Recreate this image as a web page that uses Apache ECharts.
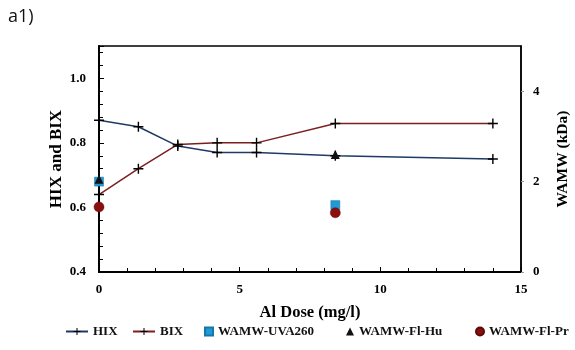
<!DOCTYPE html>
<html><head><meta charset="utf-8">
<script src="https://cdn.jsdelivr.net/npm/echarts@6/dist/echarts.min.js"></script>
<style>html,body{margin:0;padding:0;background:#fff}#c{width:575px;height:350px}</style>
</head><body><div id="c"></div>
<script>
const doses = [0, 1.4, 2.8, 4.2, 5.6, 8.4, 14];
const hix = [0.87, 0.85, 0.79, 0.77, 0.77, 0.76, 0.75];
const bix = [0.64, 0.72, 0.795, 0.80, 0.80, 0.86, 0.86];
const wamwDoses = [0, 8.4];
const wamwUva = [2.0, 1.48];
const wamwHu = [2.05, 2.6];
const wamwPr = [1.44, 1.31];

const serif = 'Liberation Serif';
const plus = 'path://M4.3,0H5.7V4.3H10V5.7H5.7V10H4.3V5.7H0V4.3H4.3Z';
const pair = (xs, ys) => xs.map((x, i) => [x, ys[i]]);
const legText = { fontFamily: serif, fontWeight: 'bold', fontSize: 13, color: '#111' };
const mkLegend = (name, left, icon, w, h) => ({
  data: [icon ? { name, icon } : { name }], left, top: 325, itemWidth: w, itemHeight: h,
  textStyle: legText, padding: 0
});

const chart = echarts.init(document.getElementById('c'));
chart.setOption({
  animation: false,
  grid: { left: 99, right: 54, top: 46, bottom: 78, outerBoundsMode: 'none', containLabel: false,
    show: true, borderColor: '#000', borderWidth: 1.5, backgroundColor: 'transparent' },
  xAxis: {
    type: 'value', min: 0, max: 15, interval: 5,
    name: 'Al Dose (mg/l)', nameLocation: 'middle', nameGap: 32,
    nameTextStyle: { fontFamily: serif, fontWeight: 'bold', fontSize: 16.5, color: '#000' },
    axisLine: { lineStyle: { color: '#000', width: 2 } },
    axisTick: { show: true, inside: true, length: 5, lineStyle: { color: '#000' } },
    minorTick: { show: true, splitNumber: 5, length: 4, lineStyle: { color: '#000' } },
    splitLine: { show: false },
    axisLabel: { fontFamily: serif, fontWeight: 'bold', fontSize: 13, color: '#000', margin: 11 }
  },
  yAxis: [{
    type: 'value', min: 0.4, max: 1.1, interval: 0.2,
    name: 'HIX and BIX', nameLocation: 'middle', nameGap: 34, nameMoveOverlap: false,
    nameTextStyle: { fontFamily: serif, fontWeight: 'bold', fontSize: 17, color: '#000' },
    axisLine: { show: true, lineStyle: { color: '#000', width: 2 } },
    axisTick: { show: true, inside: true, length: 5, lineStyle: { color: '#000' } },
    minorTick: { show: true, splitNumber: 5, length: 4, lineStyle: { color: '#000' } },
    splitLine: { show: false },
    axisLabel: { fontFamily: serif, fontWeight: 'bold', fontSize: 13, color: '#000', margin: 13, showMaxLabel: false,
      formatter: v => v.toFixed(1) }
  }, {
    type: 'value', min: 0, max: 5, interval: 2, position: 'right',
    name: 'WAMW (kDa)', nameLocation: 'middle', nameGap: 34,
    nameTextStyle: { fontFamily: serif, fontWeight: 'bold', fontSize: 15.5, color: '#000' },
    axisLine: { show: true, lineStyle: { color: '#000', width: 1.5 } },
    axisTick: { show: true, length: 3, lineStyle: { color: '#999' } },
    splitLine: { show: false },
    axisLabel: { fontFamily: serif, fontWeight: 'bold', fontSize: 13, color: '#000', margin: 12, showMaxLabel: false }
  }],
  legend: [
    mkLegend('HIX', 65, null, 22, 9),
    mkLegend('BIX', 132, null, 22, 9),
    mkLegend('WAMW-UVA260', 204, 'rect', 8, 8),
    mkLegend('WAMW-Fl-Hu', 346, 'triangle', 8, 8),
    mkLegend('WAMW-Fl-Pr', 475, 'circle', 8, 8)
  ],
  graphic: [
    { type: 'text', left: 8, top: 8, style: { text: 'a1)', font: '18px "Open Sans"', fill: '#111' } }
  ],
  series: [
    { name: 'HIX', type: 'line', yAxisIndex: 0, data: pair(doses, hix), symbol: plus, symbolSize: 10,
      lineStyle: { color: '#1f3a66', width: 1.5 }, itemStyle: { color: '#000' }, z: 3 },
    { name: 'BIX', type: 'line', yAxisIndex: 0, data: pair(doses, bix), symbol: plus, symbolSize: 10,
      lineStyle: { color: '#7a1f1f', width: 1.5 }, itemStyle: { color: '#000' }, z: 3 },
    { name: 'WAMW-UVA260', type: 'scatter', yAxisIndex: 1, data: pair(wamwDoses, wamwUva), symbol: 'rect', symbolSize: 9,
      itemStyle: { color: '#1f9ad6', borderColor: '#1577a8', borderWidth: 0.5, opacity: 1 }, z: 4 },
    { name: 'WAMW-Fl-Hu', type: 'scatter', yAxisIndex: 1, data: pair(wamwDoses, wamwHu), symbol: 'triangle', symbolSize: 9,
      itemStyle: { color: '#111', opacity: 1 }, z: 5 },
    { name: 'WAMW-Fl-Pr', type: 'scatter', yAxisIndex: 1, data: pair(wamwDoses, wamwPr), symbol: 'circle', symbolSize: 10,
      itemStyle: { color: '#8b0f0f', borderColor: '#5a0a0a', borderWidth: 0.5, opacity: 1 }, z: 4 }
  ]
});
</script></body></html>
